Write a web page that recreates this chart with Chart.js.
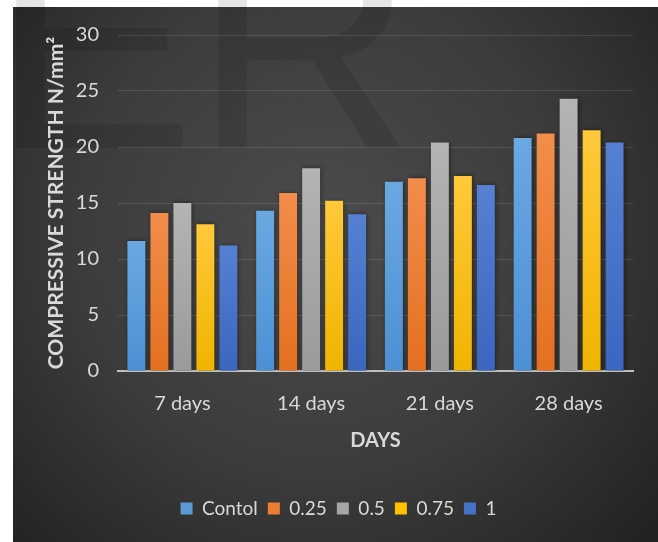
<!DOCTYPE html>
<html>
<head>
<meta charset="utf-8">
<script src="https://cdn.jsdelivr.net/npm/chart.js@4.4.1/dist/chart.umd.min.js"></script>
<style>
  html, body { margin: 0; padding: 0; background: #ffffff; }
  #wrap { width: 658px; height: 542px; position: relative; }
</style>
</head>
<body>
<div id="wrap"><canvas id="c" width="658" height="542"></canvas></div>
<script>
// Curing ages on the x axis
const categories = ['7 days', '14 days', '21 days', '28 days'];

// Mix series (replacement levels) and their compressive strengths, N/mm²
const seriesNames = ['Contol', '0.25', '0.5', '0.75', '1'];
const control = [11.6, 14.3, 16.9, 20.8];
const level025 = [14.1, 15.9, 17.2, 21.2];
const level05 = [15.0, 18.1, 20.4, 24.3];
const level075 = [13.1, 15.2, 17.4, 21.5];
const level1 = [11.2, 14.0, 16.6, 20.4];

// Value axis ticks
const yTicks = [0, 5, 10, 15, 20, 25, 30];

const seriesValues = [control, level025, level05, level075, level1];

// Base colour plus lighter top / darker bottom shade for each series
const baseColors = ['#5b9bd5', '#ed7d31', '#a5a5a5', '#ffc000', '#4472c4'];
const topShades  = ['#6aa8e2', '#f28d4b', '#b4b4b4', '#ffc93a', '#5680d2'];
const lowShades  = ['#4c90d4', '#e4701f', '#9a9a9a', '#f0b400', '#3b66c0'];

const FONT = 'Lato, "Open Sans", sans-serif';

function barGradient(i) {
  return function (ctx) {
    const chart = ctx.chart;
    const y = chart.scales.y;
    if (!y || ctx.type !== 'data') return baseColors[i];
    const top = y.getPixelForValue(ctx.raw);
    const bottom = y.getPixelForValue(0);
    if (!isFinite(top) || !isFinite(bottom) || top === bottom) return baseColors[i];
    const g = chart.ctx.createLinearGradient(0, top, 0, bottom);
    g.addColorStop(0, topShades[i]);
    g.addColorStop(1, lowShades[i]);
    return g;
  };
}

// Backdrop: white page, dark radial panel, faint "ER" lettering
const backdrop = {
  id: 'backdrop',
  beforeDraw(chart) {
    const c = chart.ctx;
    c.save();
    c.fillStyle = '#ffffff';
    c.fillRect(0, 0, chart.width, chart.height);
    const g = c.createRadialGradient(320, 230, 0, 320, 230, 440);
    g.addColorStop(0, '#4c4c4c');
    g.addColorStop(0.55, '#3c3c3c');
    g.addColorStop(1, '#232323');
    c.fillStyle = g;
    c.fillRect(13, 7, chart.width - 13, chart.height - 7);
    c.fillStyle = 'rgba(0,0,0,0.10)';
    c.font = '307px "Liberation Sans", Arial, sans-serif';
    c.textBaseline = 'alphabetic';
    c.textAlign = 'left';
    c.fillText('E', -9, 148);
    c.fillText('R', 193, 148);
    c.restore();
  }
};

// Soft shadow under the bars
const barShadow = {
  id: 'barShadow',
  beforeDatasetDraw(chart) {
    const c = chart.ctx;
    c.save();
    c.shadowColor = 'rgba(0,0,0,0.55)';
    c.shadowBlur = 5;
    c.shadowOffsetX = 1;
    c.shadowOffsetY = 0;
  },
  afterDatasetDraw(chart) {
    chart.ctx.restore();
  }
};

const datasets = seriesNames.map((name, i) => ({
  label: name,
  data: seriesValues[i],
  backgroundColor: barGradient(i),
  borderWidth: 0,
  categoryPercentage: 0.893,
  barPercentage: 0.78
}));

new Chart(document.getElementById('c'), {
  type: 'bar',
  data: { labels: categories, datasets },
  plugins: [backdrop, barShadow],
  options: {
    responsive: false,
    animation: false,
    devicePixelRatio: 1,
    layout: { padding: { left: 44, right: 25, top: 35, bottom: 14 } },
    plugins: {
      tooltip: { enabled: false },
      legend: {
        position: 'bottom',
        labels: {
          color: '#d9d9d9',
          font: { family: FONT, size: 19 },
          boxWidth: 12,
          boxHeight: 12,
          padding: 10,
          generateLabels() {
            return seriesNames.map((n, i) => ({
              text: n, fillStyle: baseColors[i], strokeStyle: baseColors[i],
              lineWidth: 0, fontColor: '#d9d9d9', datasetIndex: i, hidden: false
            }));
          }
        }
      }
    },
    scales: {
      x: {
        afterFit(scale) { scale.height = 118; },
        grid: { display: false, drawTicks: false },
        border: { display: true, color: '#bfbfbf', width: 2 },
        ticks: { color: '#d9d9d9', font: { family: FONT, size: 20 }, padding: 21 },
        title: {
          display: true, text: 'DAYS', color: '#d9d9d9',
          font: { family: FONT, size: 20, weight: 'bold' }, padding: { top: 0, bottom: 36 }
        }
      },
      y: {
        min: 0, max: 30,
        afterFit(scale) { scale.width = 74; },
        afterBuildTicks(scale) { scale.ticks = yTicks.map(v => ({ value: v })); },
        grid: { color: 'rgba(255,255,255,0.12)', lineWidth: 1, drawTicks: false },
        border: { display: false },
        ticks: { color: '#d9d9d9', font: { family: FONT, size: 20 }, padding: 19 },
        title: {
          display: true, text: 'COMPRESSIVE STRENGTH N/mm²', color: '#d9d9d9',
          font: { family: FONT, size: 21, weight: 'bold' }, padding: { top: 0, bottom: 0 }
        }
      }
    }
  }
});
</script>
</body>
</html>
